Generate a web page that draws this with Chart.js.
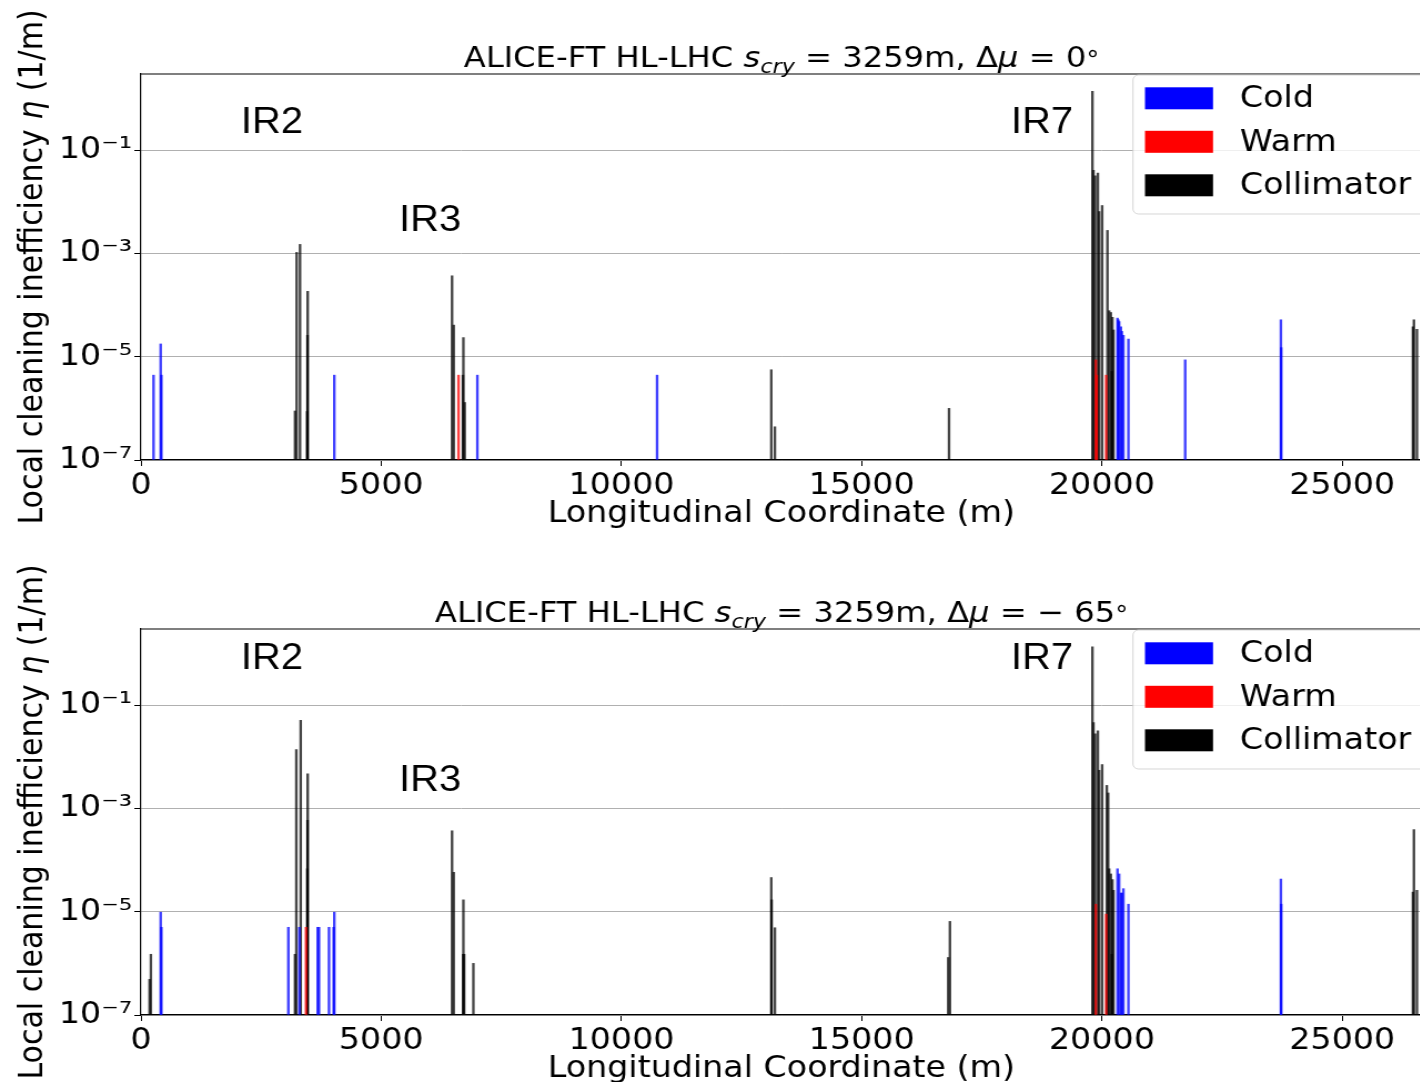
<!DOCTYPE html>
<html>
<head>
<meta charset="utf-8">
<script src="https://cdn.jsdelivr.net/npm/chart.js@4.4.1/dist/chart.umd.min.js"></script>
<style>
  html, body { margin: 0; padding: 0; background: #fff; overflow: hidden; }
  .panel { position: absolute; left: 0; transform: scaleX(1.11); transform-origin: 0 0; }
  #panelTop { top: 0; }
  #panelBottom { top: 555px; }
</style>
</head>
<body>
<div class="panel" id="panelTop"><canvas id="lossTop" width="1281" height="541"></canvas></div>
<div class="panel" id="panelBottom"><canvas id="lossBottom" width="1281" height="541"></canvas></div>
<script>
const ringLength = 26659;
const xTicks = [0, 5000, 10000, 15000, 20000, 25000];
const yTicks = [1e-7, 1e-5, 1e-3, 1e-1];

// Delta mu = 0 deg
const coldS0 = [262, 410, 425, 4024, 7001, 10741, 20323, 20340, 20358, 20395, 20414, 20447, 20551, 21732, 23724, 23730];
const coldEta0 = [4.4e-6, 1.77e-5, 4.4e-6, 4.4e-6, 4.4e-6, 4.4e-6, 5.6e-5, 5.2e-5, 4.8e-5, 3.8e-5, 3.1e-5, 2.6e-5, 2.2e-5, 8.7e-6, 5.2e-5, 1.5e-5];
const warmS0 = [6609, 19873, 19890, 20087];
const warmEta0 = [4.4e-6, 8.7e-6, 4.4e-6, 4.4e-6];
const collS0 = [3206, 3240, 3310, 3458, 3465, 3470, 6474, 6509, 6700, 6710, 6738, 13118, 13193, 16817,
  19802, 19823, 19858, 19915, 19942, 20004, 20114, 20150, 20185, 20206, 20218, 20239, 26471, 26492, 26555];
const collEta0 = [8.9e-7, 1.05e-3, 1.5e-3, 8.7e-7, 2.6e-5, 1.85e-4, 3.7e-4, 4.1e-5, 4.4e-6, 2.35e-5, 1.3e-6, 5.6e-6, 4.4e-7, 1.0e-6,
  1.38, 0.041, 0.032, 0.036, 6.5e-3, 8.5e-3, 2.8e-3, 7.8e-5, 7.2e-5, 5.2e-6, 5.8e-5, 3.3e-5, 3.8e-5, 5.2e-5, 3.4e-5];

// Delta mu = -65 deg
const coldS65 = [410, 425, 3067, 3296, 3678, 3705, 3913, 4010, 4024, 20323, 20358, 20395, 20414, 20447, 20551, 23724, 23730];
const coldEta65 = [9.8e-6, 5.0e-6, 5.0e-6, 5.0e-6, 5.0e-6, 5.0e-6, 5.0e-6, 5.0e-6, 9.8e-6, 6.8e-5, 5.4e-5, 2.3e-5, 2.3e-5, 2.8e-5, 1.4e-5, 4.3e-5, 1.4e-5];
const warmS65 = [3435, 19873, 20087];
const warmEta65 = [5.0e-6, 1.4e-5, 9.0e-6];
const collS65 = [179, 206, 3206, 3233, 3324, 3462, 3466, 3470, 6474, 6509, 6705, 6710, 6725, 6918, 13118, 13125, 13193, 16800, 16836,
  19802, 19823, 19858, 19915, 19942, 20004, 20101, 20129, 20150, 20185, 20206, 20218, 20239, 26471, 26492, 26555];
const collEta65 = [4.9e-7, 1.5e-6, 1.5e-6, 0.0138, 0.051, 6.8e-5, 5.9e-4, 4.7e-3, 3.7e-4, 5.8e-5, 1.5e-6, 1.7e-5, 1.5e-6, 1.0e-6, 4.6e-5, 1.7e-5, 4.9e-6, 1.3e-6, 6.5e-6,
  1.35, 0.046, 0.028, 0.032, 5.5e-3, 7.1e-3, 2.8e-3, 2.0e-3, 6.8e-5, 5.4e-5, 1.5e-6, 4.2e-5, 2.6e-5, 2.4e-5, 3.9e-4, 2.6e-5];

const regionNames = ['IR2', 'IR3', 'IR7'];
const regionS = [2727, 6016, 18755];
const regionEta0 = [0.22, 2.75e-3, 0.22];
const regionEta65 = [0.5, 2.2e-3, 0.5];

const legendNames = ['Cold', 'Warm', 'Collimator'];
const legendColors = ['#0000ff', '#ff0000', '#000000'];

const FONT = 'DejaVu Sans';
const sup = { '-': '\u207b', '1': '\u00b9', '3': '\u00b3', '5': '\u2075', '7': '\u2077', '0': '\u2070' };

const points = (xs, ys) => xs.map((x, i) => ({ x: x, y: ys[i] }));

function runFont(r, size) {
  return (r.it ? 'italic ' : '') + Math.round(size * (r.sc || 1)) + 'px "' + FONT + '"';
}

function drawRuns(ctx, runs, cx, y, size) {
  let w = 0;
  runs.forEach(r => { ctx.font = runFont(r, size); w += ctx.measureText(r.t).width; });
  let x = cx - w / 2;
  runs.forEach(r => {
    ctx.font = runFont(r, size);
    ctx.fillText(r.t, x, y + (r.dy || 0));
    x += ctx.measureText(r.t).width;
  });
}

const framePlugin = {
  id: 'frameText',
  afterDraw(chart, args, opts) {
    const ctx = chart.ctx;
    const a = chart.chartArea;
    const xs = chart.scales.x, ys = chart.scales.y;
    ctx.save();
    ctx.fillStyle = '#000';
    ctx.strokeStyle = '#000';
    ctx.lineWidth = 1.2;
    ctx.beginPath();
    ctx.moveTo(a.left, a.top);
    ctx.lineTo(a.right, a.top);
    ctx.stroke();

    // title
    ctx.textAlign = 'left';
    ctx.textBaseline = 'alphabetic';
    drawRuns(ctx, opts.title, (a.left + a.right) / 2, a.top - 7, 29);

    // axis titles
    drawRuns(ctx, [{ t: 'Longitudinal Coordinate (m)' }], (a.left + a.right) / 2, a.bottom + 62, 30);
    ctx.save();
    ctx.translate(38, (a.top + a.bottom) / 2);
    ctx.rotate(-Math.PI / 2);
    drawRuns(ctx, [{ t: 'Local cleaning inefficiency ' }, { t: '\u03b7', it: 1 }, { t: ' (1/m)' }], 0, 0, 30);
    ctx.restore();

    // region labels
    ctx.font = '36px "Liberation Sans"';
    ctx.textAlign = 'center';
    regionNames.forEach((n, i) => {
      ctx.fillText(n, xs.getPixelForValue(regionS[i]), ys.getPixelForValue(opts.regionEta[i]));
    });

    // legend
    const lx = 1020.7, ly = a.top + 1, lw = 300, lh = 139;
    ctx.beginPath();
    ctx.roundRect(lx, ly, lw, lh, 5);
    ctx.fillStyle = 'rgba(255,255,255,0.8)';
    ctx.fill();
    ctx.strokeStyle = 'rgba(204,204,204,0.8)';
    ctx.lineWidth = 1;
    ctx.stroke();
    ctx.textAlign = 'left';
    ctx.textBaseline = 'middle';
    ctx.font = '30px "' + FONT + '"';
    legendNames.forEach((n, i) => {
      const ry = a.top + 13.3 + i * 43.5;
      ctx.fillStyle = legendColors[i];
      ctx.fillRect(1031.5, ry, 61.3, 22);
      ctx.fillStyle = '#000';
      ctx.fillText(n, 1117, ry + 12);
    });
    ctx.restore();
  }
};

function lossChart(id, titleRuns, regionEta, cold, warm, coll) {
  return new Chart(document.getElementById(id), {
    type: 'bar',
    data: {
      datasets: [
        { label: 'Cold', data: cold, backgroundColor: 'rgba(0,0,255,0.75)' },
        { label: 'Warm', data: warm, backgroundColor: 'rgba(255,0,0,0.75)' },
        { label: 'Collimator', data: coll, backgroundColor: 'rgba(0,0,0,0.72)' }
      ]
    },
    options: {
      responsive: false,
      animation: false,
      devicePixelRatio: 1,
      layout: { padding: { top: 74, right: 0, left: 0, bottom: 0 } },
      datasets: { bar: { grouped: false, barThickness: 1.7, base: 1e-7, borderWidth: 0 } },
      plugins: {
        legend: { display: false },
        tooltip: { enabled: false },
        frameText: { title: titleRuns, regionEta: regionEta }
      },
      scales: {
        x: {
          type: 'linear',
          min: 0,
          max: ringLength,
          offset: false,
          afterBuildTicks: s => { s.ticks = xTicks.map(v => ({ value: v })); },
          afterFit: s => { s.height = 81; },
          grid: { offset: false, drawOnChartArea: false, drawTicks: true, tickLength: 6, tickColor: '#000' },
          border: { color: '#000', width: 1.2 },
          ticks: { color: '#000', font: { family: FONT, size: 30 }, padding: 2, maxRotation: 0, autoSkip: false, callback: v => String(v) }
        },
        y: {
          type: 'logarithmic',
          min: 1e-7,
          max: 3,
          afterBuildTicks: s => { s.ticks = yTicks.map(v => ({ value: v })); },
          afterFit: s => { s.width = 127; },
          grid: { color: '#b0b0b0', lineWidth: 1, tickColor: '#000', tickLength: 6 },
          border: { color: '#000', width: 1.2 },
          ticks: {
            color: '#000', font: { family: FONT, size: 30 }, padding: 2, autoSkip: false,
            callback: v => '10' + String(Math.round(Math.log10(v))).split('').map(c => sup[c]).join('')
          }
        }
      }
    },
    plugins: [framePlugin]
  });
}

const titleTop = [
  { t: 'ALICE-FT HL-LHC ' }, { t: 's', it: 1 }, { t: 'cry', it: 1, sc: 0.7, dy: 6 },
  { t: ' = 3259m, \u0394' }, { t: '\u03bc', it: 1 }, { t: ' = 0' }, { t: '\u00b0', sc: 0.8 }
];
const titleBottom = [
  { t: 'ALICE-FT HL-LHC ' }, { t: 's', it: 1 }, { t: 'cry', it: 1, sc: 0.7, dy: 6 },
  { t: ' = 3259m, \u0394' }, { t: '\u03bc', it: 1 }, { t: ' = \u2212 65' }, { t: '\u00b0', sc: 0.8 }
];

lossChart('lossTop', titleTop, regionEta0,
  points(coldS0, coldEta0), points(warmS0, warmEta0), points(collS0, collEta0));
lossChart('lossBottom', titleBottom, regionEta65,
  points(coldS65, coldEta65), points(warmS65, warmEta65), points(collS65, collEta65));
</script>
</body>
</html>
